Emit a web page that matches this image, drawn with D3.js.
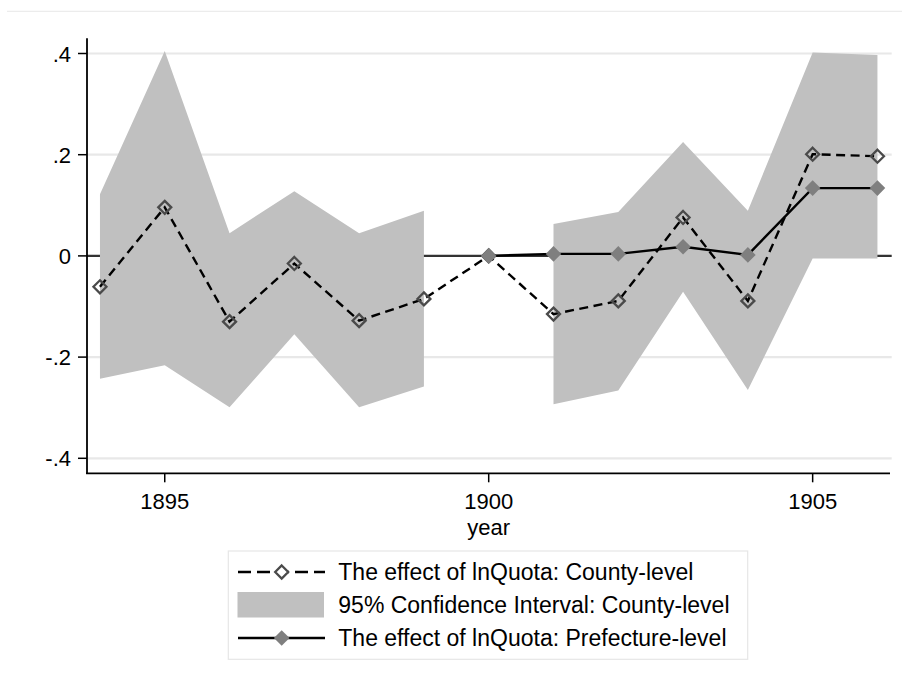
<!DOCTYPE html>
<html>
<head>
<meta charset="utf-8">
<script src="https://cdn.jsdelivr.net/npm/d3@7"></script>
<style>
  html, body { margin: 0; padding: 0; background: #fff; }
  svg { display: block; }
  text { font-family: "Liberation Sans", Arial, Helvetica, sans-serif; fill: #000; }
</style>
</head>
<body>
<svg id="chart" width="902" height="683"></svg>
<script>
// Event-study estimates by year
const years = [1894, 1895, 1896, 1897, 1898, 1899, 1900, 1901, 1902, 1903, 1904, 1905, 1906];
const countyEffect = [-0.061, 0.096, -0.130, -0.015, -0.128, -0.085, 0, -0.115, -0.089, 0.076, -0.089, 0.201, 0.197];
// 95% CI for the county-level estimates (null for the omitted base year)
const ciUpper = [0.122, 0.405, 0.045, 0.128, 0.045, 0.089, null, 0.063, 0.087, 0.225, 0.089, 0.402, 0.397];
const ciLower = [-0.243, -0.216, -0.299, -0.155, -0.299, -0.258, null, -0.293, -0.266, -0.071, -0.265, -0.005, -0.005];
// Prefecture-level estimates start in the base year
const prefYears = [1900, 1901, 1902, 1903, 1904, 1905, 1906];
const prefEffect = [0, 0.004, 0.004, 0.018, 0.002, 0.134, 0.134];

const yTicks = [-0.4, -0.2, 0, 0.2, 0.4];
const yTickLabels = ["-.4", "-.2", "0", ".2", ".4"];
const xTicks = [1895, 1900, 1905];
const xTitle = "year";
const legendLabels = [
  "The effect of lnQuota: County-level",
  "95% Confidence Interval: County-level",
  "The effect of lnQuota: Prefecture-level"
];

const svg = d3.select("#chart");

const plotLeft = 87, plotRight = 891.7, plotTop = 38.3, plotBottom = 473.3;
const x = d3.scaleLinear().domain([1893.8, 1906.22]).range([plotLeft, plotRight]);
const y = d3.scaleLinear().domain([-0.4, 0.4]).range([458.3, 53.5]);

// faint frame line at the top of the graph region
svg.append("line")
  .attr("x1", 7).attr("x2", 902).attr("y1", 11.3).attr("y2", 11.3)
  .attr("stroke", "#ececec").attr("stroke-width", 1.3);

// horizontal gridlines
svg.append("g").selectAll("line")
  .data(yTicks.filter(d => d !== 0))
  .join("line")
  .attr("x1", plotLeft).attr("x2", plotRight)
  .attr("y1", d => y(d)).attr("y2", d => y(d))
  .attr("stroke", "#e8e8e8").attr("stroke-width", 2.2);

// reference line at zero
svg.append("line")
  .attr("x1", plotLeft).attr("x2", plotRight)
  .attr("y1", y(0)).attr("y2", y(0))
  .attr("stroke", "#333").attr("stroke-width", 2.3);

// confidence band
const ciData = years.map((yr, i) => ({ yr, lo: ciLower[i], hi: ciUpper[i] }));
const band = d3.area()
  .defined(d => d.lo !== null && d.hi !== null)
  .x(d => x(d.yr))
  .y0(d => y(d.lo))
  .y1(d => y(d.hi));
svg.append("path")
  .datum(ciData)
  .attr("d", band)
  .attr("fill", "#c0c0c0");

// county-level estimates: dashed line with hollow diamonds
const countyData = years.map((yr, i) => ({ yr, v: countyEffect[i] }));
const line = d3.line().x(d => x(d.yr)).y(d => y(d.v));
svg.append("path")
  .datum(countyData)
  .attr("d", line)
  .attr("fill", "none")
  .attr("stroke", "#000")
  .attr("stroke-width", 2.4)
  .attr("stroke-dasharray", "9,5.5");

const diamond = (s) => `M0,${-s}L${s},0L0,${s}L${-s},0Z`;

svg.append("g").selectAll("path")
  .data(countyData)
  .join("path")
  .attr("d", diamond(6.5))
  .attr("transform", d => `translate(${x(d.yr)},${y(d.v)})`)
  .attr("fill", "none")
  .attr("stroke", "#4a4a4a")
  .attr("stroke-width", 2.3);

// prefecture-level estimates: solid line with filled diamonds
const prefData = prefYears.map((yr, i) => ({ yr, v: prefEffect[i] }));
svg.append("path")
  .datum(prefData)
  .attr("d", line)
  .attr("fill", "none")
  .attr("stroke", "#000")
  .attr("stroke-width", 2.4);

svg.append("g").selectAll("path")
  .data(prefData)
  .join("path")
  .attr("d", diamond(7.8))
  .attr("transform", d => `translate(${x(d.yr)},${y(d.v)})`)
  .attr("fill", "#7f7f7f");

// y axis
const yAxis = svg.append("g");
yAxis.append("line")
  .attr("x1", plotLeft).attr("x2", plotLeft)
  .attr("y1", plotTop).attr("y2", plotBottom + 0.8)
  .attr("stroke", "#000").attr("stroke-width", 1.8);
yAxis.selectAll("line.tick")
  .data(yTicks)
  .join("line")
  .attr("class", "tick")
  .attr("x1", plotLeft - 9).attr("x2", plotLeft)
  .attr("y1", d => y(d)).attr("y2", d => y(d))
  .attr("stroke", "#000").attr("stroke-width", 1.5);
yAxis.selectAll("text")
  .data(yTicks)
  .join("text")
  .attr("x", 71)
  .attr("y", d => y(d) + 8)
  .attr("text-anchor", "end")
  .attr("font-size", "22px")
  .text((d, i) => yTickLabels[i]);

// x axis
const xAxis = svg.append("g");
xAxis.append("line")
  .attr("x1", plotLeft - 0.9).attr("x2", 890)
  .attr("y1", plotBottom).attr("y2", plotBottom)
  .attr("stroke", "#000").attr("stroke-width", 1.8);
xAxis.selectAll("line.tick")
  .data(xTicks)
  .join("line")
  .attr("class", "tick")
  .attr("x1", d => x(d)).attr("x2", d => x(d))
  .attr("y1", plotBottom).attr("y2", plotBottom + 9)
  .attr("stroke", "#000").attr("stroke-width", 1.5);
xAxis.selectAll("text")
  .data(xTicks)
  .join("text")
  .attr("x", d => x(d))
  .attr("y", 509)
  .attr("text-anchor", "middle")
  .attr("font-size", "22px")
  .text(d => d);
svg.append("text")
  .attr("x", x(1900))
  .attr("y", 535)
  .attr("text-anchor", "middle")
  .attr("font-size", "22px")
  .text(xTitle);

// legend
const lg = svg.append("g");
lg.append("rect")
  .attr("x", 228.3).attr("y", 551)
  .attr("width", 519.4).attr("height", 108.3)
  .attr("fill", "#fff")
  .attr("stroke", "#e6e6e6").attr("stroke-width", 1.2);

const rowY = [572, 605, 638];
const symL = 238, symR = 325, symC = 281.7;

// row 1: dashed line with hollow diamond
lg.append("line")
  .attr("x1", symL).attr("x2", symR)
  .attr("y1", rowY[0]).attr("y2", rowY[0])
  .attr("stroke", "#000").attr("stroke-width", 2.4)
  .attr("stroke-dasharray", "13,6");
lg.append("path")
  .attr("d", diamond(6.5))
  .attr("transform", `translate(${symC},${rowY[0]})`)
  .attr("fill", "#fff")
  .attr("stroke", "#4a4a4a").attr("stroke-width", 2.3);

// row 2: band swatch
lg.append("rect")
  .attr("x", 237.5).attr("y", rowY[1] - 13)
  .attr("width", 86.5).attr("height", 25.5)
  .attr("fill", "#c0c0c0");

// row 3: solid line with filled diamond
lg.append("line")
  .attr("x1", symL).attr("x2", symR)
  .attr("y1", rowY[2]).attr("y2", rowY[2])
  .attr("stroke", "#000").attr("stroke-width", 2.4);
lg.append("path")
  .attr("d", diamond(7.8))
  .attr("transform", `translate(${symC},${rowY[2]})`)
  .attr("fill", "#7f7f7f");

lg.selectAll("text")
  .data(legendLabels)
  .join("text")
  .attr("x", 338.3)
  .attr("y", (d, i) => rowY[i] + 8.3)
  .attr("font-size", "23px")
  .text(d => d);
</script>
</body>
</html>
